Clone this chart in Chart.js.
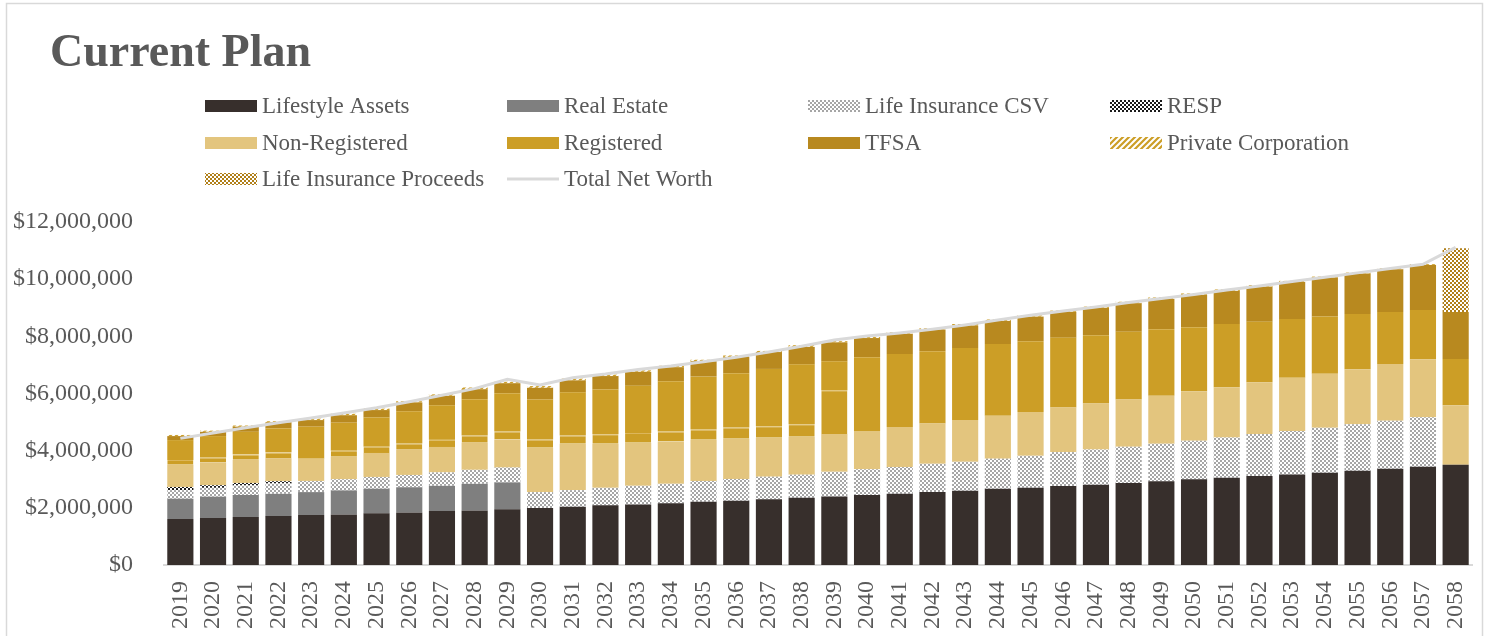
<!DOCTYPE html>
<html>
<head>
<meta charset="utf-8">
<script src="https://cdn.jsdelivr.net/npm/chart.js@4/dist/chart.umd.min.js"></script>
<style>
  html, body { margin: 0; padding: 0; background: #fff; }
  #wrap { position: relative; width: 1489px; height: 636px; }
</style>
</head>
<body>
<div id="wrap"><canvas id="planChart"></canvas></div>
<script>
// values in $ millions
const years = ['2019','2020','2021','2022','2023','2024','2025','2026','2027','2028',
               '2029','2030','2031','2032','2033','2034','2035','2036','2037','2038',
               '2039','2040','2041','2042','2043','2044','2045','2046','2047','2048',
               '2049','2050','2051','2052','2053','2054','2055','2056','2057','2058'];

const lifestyleAssets = [1.61,1.64,1.68,1.71,1.75,1.77,1.81,1.84,1.89,1.91,
                         1.95,1.99,2.04,2.09,2.12,2.16,2.21,2.25,2.30,2.35,
                         2.40,2.45,2.49,2.55,2.60,2.67,2.70,2.76,2.81,2.87,
                         2.93,3.00,3.05,3.11,3.17,3.23,3.30,3.37,3.44,3.51];
const realEstate = [0.71,0.75,0.77,0.78,0.80,0.84,0.86,0.88,0.88,0.93,
                    0.94,0,0,0,0,0,0,0,0,0,
                    0,0,0,0,0,0,0,0,0,0,
                    0,0,0,0,0,0,0,0,0,0];
const lifeInsuranceCsv = [0.30,0.31,0.34,0.37,0.39,0.39,0.41,0.43,0.47,0.49,
                          0.52,0.56,0.58,0.61,0.65,0.68,0.73,0.76,0.79,0.81,
                          0.86,0.90,0.94,0.99,1.01,1.05,1.12,1.19,1.23,1.27,
                          1.31,1.35,1.41,1.47,1.52,1.57,1.62,1.68,1.73,0];
const resp = [0.11,0.09,0.08,0.07,0,0,0,0,0,0,
              0,0,0,0,0,0,0,0,0,0,
              0,0,0,0,0,0,0,0,0,0,
              0,0,0,0,0,0,0,0,0,0];
const nonRegistered = [0.78,0.80,0.81,0.81,0.78,0.79,0.84,0.88,0.89,0.95,
                       0.98,1.55,1.62,1.54,1.51,1.48,1.44,1.41,1.36,1.33,
                       1.32,1.34,1.40,1.41,1.46,1.50,1.53,1.56,1.61,1.65,
                       1.68,1.73,1.76,1.81,1.86,1.89,1.93,1.98,2.03,2.08];
// registered shows as two pieces of the same colour
const registered = [0.16,0.17,0.19,0.20,0,0.21,0.22,0.22,0.25,0.25,
                    0.28,0.29,0.29,0.33,0.34,0.35,0.36,0.39,0.40,0.43,
                    1.53,0,0,0,0,0,0,0,0,0,
                    0,0,0,0,0,0,0,0,0,0];
const registered2 = [0.70,0.75,0.79,0.84,1.12,0.98,1.02,1.13,1.21,1.27,
                     1.34,1.40,1.51,1.57,1.65,1.76,1.85,1.90,2.01,2.10,
                     1.02,2.58,2.55,2.53,2.52,2.51,2.48,2.44,2.39,2.37,
                     2.33,2.24,2.21,2.12,2.06,2.00,1.93,1.82,1.72,1.62];
const tfsa = [0.14,0.15,0.18,0.21,0.23,0.26,0.26,0.31,0.33,0.35,
              0.35,0.41,0.42,0.47,0.49,0.49,0.54,0.57,0.59,0.61,
              0.66,0.67,0.71,0.76,0.79,0.81,0.86,0.91,0.96,1.00,
              1.06,1.13,1.16,1.23,1.29,1.37,1.42,1.50,1.58,1.64];
const privateCorp = [0.04,0.04,0.04,0.04,0.05,0.05,0.05,0.04,0.05,0.06,
                     0.05,0.06,0.06,0.05,0.05,0.05,0.05,0.05,0.04,0.06,
                     0.04,0.04,0.05,0.04,0.05,0.05,0.04,0.04,0.04,0.05,
                     0.05,0.05,0.05,0.05,0.04,0.03,0.03,0.03,0.03,0];
const lifeInsuranceProceeds = [0,0,0,0,0,0,0,0,0,0,
                               0,0,0,0,0,0,0,0,0,0,
                               0,0,0,0,0,0,0,0,0,0,
                               0,0,0,0,0,0,0,0,0,2.23];
const totalNetWorth = [4.43,4.62,4.80,4.98,5.14,5.32,5.50,5.71,5.94,6.17,
                       6.50,6.30,6.55,6.68,6.84,6.96,7.11,7.27,7.45,7.65,
                       7.87,8.01,8.12,8.25,8.40,8.57,8.74,8.89,9.03,9.18,
                       9.32,9.46,9.62,9.76,9.92,10.07,10.22,10.37,10.52,11.11];

const yMax = 12;
const yStep = 2;

const FONT = "'Liberation Serif', 'DejaVu Serif', serif";
const GREY_TEXT = '#595959';

// small canvas patterns for the hatched series
function checker(color, cell){
    const c = document.createElement('canvas');
    c.width = cell * 2; c.height = cell * 2;
    const g = c.getContext('2d');
    g.fillStyle = '#ffffff';
    g.fillRect(0, 0, c.width, c.height);
    g.fillStyle = color;
    g.fillRect(0, 0, cell, cell);
    g.fillRect(cell, cell, cell, cell);
    return g.createPattern(c, 'repeat');
}

function stripes(color){
    const s = 6;
    const c = document.createElement('canvas');
    c.width = s; c.height = s;
    const g = c.getContext('2d');
    g.fillStyle = '#ffffff';
    g.fillRect(0, 0, s, s);
    g.strokeStyle = color;
    g.lineWidth = 2.2;
    g.beginPath();
    g.moveTo(-1, s + 1); g.lineTo(s + 1, -1);
    g.moveTo(-1, 1); g.lineTo(1, -1);
    g.moveTo(s - 1, s + 1); g.lineTo(s + 1, s - 1);
    g.stroke();
    return g.createPattern(c, 'repeat');
}

const csvPattern = checker('#a6a6a6', 2);
const respPattern = checker('#1a1a1a', 2);
const corpPattern = stripes('#cc9e26');
const proceedsPattern = checker('#b07f18', 2);

function barSet(label, data, color, extra){
    return Object.assign({
        type: 'bar',
        label: label,
        data: data,
        backgroundColor: color,
        borderWidth: 0,
        stack: 'assets',
        order: 1
    }, extra || {});
}

const datasets = [
    barSet('Lifestyle Assets', lifestyleAssets, '#372f2c'),
    barSet('Real Estate', realEstate, '#7f7f7f'),
    barSet('Life Insurance CSV', lifeInsuranceCsv, csvPattern),
    barSet('RESP', resp, respPattern),
    barSet('Non-Registered', nonRegistered, '#e3c57e'),
    barSet('Registered', registered, '#cc9e26', {
        borderWidth: {top: 1, bottom: 0, left: 0, right: 0},
        borderColor: '#dcb65a',
        borderSkipped: false
    }),
    barSet('Registered (2)', registered2, '#cc9e26'),
    barSet('TFSA', tfsa, '#b8891f'),
    barSet('Private Corporation', privateCorp, corpPattern),
    barSet('Life Insurance Proceeds', lifeInsuranceProceeds, proceedsPattern),
    {
        type: 'line',
        label: 'Total Net Worth',
        data: totalNetWorth,
        borderColor: '#d9d9d9',
        borderWidth: 3,
        pointRadius: 0,
        tension: 0,
        fill: false,
        stack: 'total',
        order: 0
    }
];

const legendRows = [
    ['Lifestyle Assets', 'Real Estate', 'Life Insurance CSV', 'RESP'],
    ['Non-Registered', 'Registered', 'TFSA', 'Private Corporation'],
    ['Life Insurance Proceeds', 'Total Net Worth']
];

// frame, title and the 4-column legend
const pageDecor = {
    id: 'pageDecor',
    beforeDraw(chart){
        const ctx = chart.ctx;
        ctx.save();
        ctx.strokeStyle = '#d9d9d9';
        ctx.lineWidth = 1.5;
        ctx.strokeRect(6.5, 3.5, 1476, 700);
        ctx.restore();
    },
    afterDraw(chart){
        const ctx = chart.ctx;
        ctx.save();
        ctx.fillStyle = GREY_TEXT;
        ctx.font = 'bold 46px ' + FONT;
        ctx.textBaseline = 'alphabetic';
        ctx.fillText('Current Plan', 50, 66);

        const colX = [205, 507, 808, 1110];
        const rowY = [106, 143, 179];
        ctx.font = '23px ' + FONT;
        ctx.textBaseline = 'middle';
        legendRows.forEach((row, r) => {
            row.forEach((name, c) => {
                const ds = chart.data.datasets.find(d => d.label === name);
                const x = colX[c], y = rowY[r];
                if(ds.type === 'line'){
                    ctx.strokeStyle = ds.borderColor;
                    ctx.lineWidth = 3;
                    ctx.beginPath();
                    ctx.moveTo(x, y); ctx.lineTo(x + 52, y);
                    ctx.stroke();
                } else {
                    ctx.fillStyle = ds.backgroundColor;
                    ctx.fillRect(x, y - 6, 52, 12);
                }
                ctx.fillStyle = GREY_TEXT;
                ctx.fillText(name, x + 57, y + 1);
            });
        });
        ctx.restore();
    }
};

new Chart(document.getElementById('planChart'), {
    data: { labels: years, datasets: datasets },
    options: {
        responsive: true,
        maintainAspectRatio: false,
        animation: false,
        layout: { padding: { top: 222, right: 17, bottom: 0, left: 0 } },
        datasets: {
            bar: { barPercentage: 0.8, categoryPercentage: 1.0 }
        },
        plugins: {
            legend: { display: false },
            tooltip: { enabled: false },
            title: { display: false }
        },
        scales: {
            x: {
                stacked: true,
                grid: { display: false, drawTicks: false },
                border: { display: true, color: '#d9d9d9', width: 2 },
                ticks: {
                    color: GREY_TEXT,
                    font: { family: FONT, size: 24 },
                    minRotation: 90,
                    maxRotation: 90,
                    padding: 16,
                    autoSkip: false
                },
                afterFit(scale){
                    scale.height = 71;
                    scale.paddingLeft = 0;
                    scale.paddingRight = 0;
                }
            },
            y: {
                stacked: true,
                min: 0,
                max: yMax,
                grid: { display: false, drawTicks: false },
                border: { display: false },
                ticks: {
                    stepSize: yStep,
                    color: GREY_TEXT,
                    font: { family: FONT, size: 24 },
                    padding: 31,
                    callback: v => '$' + Math.round(v * 1000000).toLocaleString('en-US')
                },
                afterFit(scale){
                    scale.width = 164;
                    scale.paddingTop = 0;
                    scale.paddingBottom = 0;
                }
            }
        }
    },
    plugins: [pageDecor]
});
</script>
</body>
</html>
